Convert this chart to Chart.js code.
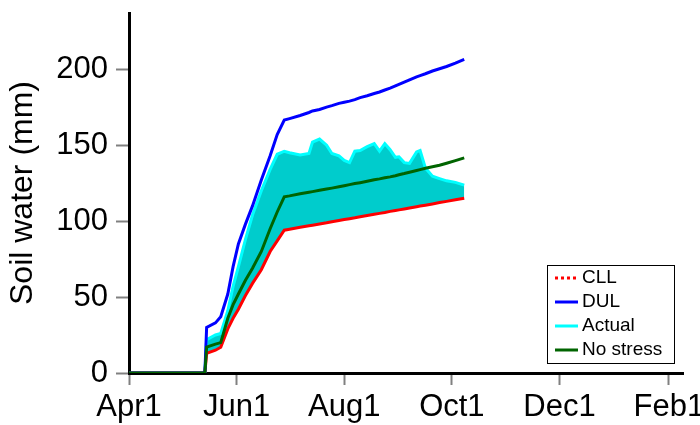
<!DOCTYPE html>
<html>
<head>
<meta charset="utf-8">
<script src="https://cdn.jsdelivr.net/npm/chart.js@4.4.1/dist/chart.umd.min.js"></script>
<style>
  html, body { margin: 0; padding: 0; background: #fff; }
  #wrap { width: 700px; height: 425px; }
</style>
</head>
<body>
<div id="wrap"><canvas id="soilChart"></canvas></div>
<script>
// days after Apr1
const days = [0, 43, 44, 49, 52, 56, 59, 62, 66, 70, 75, 80, 84, 88, 91, 97, 102, 104, 108, 112,
  115, 119, 122, 125, 128, 131, 135, 139, 142, 145, 148, 151, 153, 156, 159, 163, 165, 168, 172, 176,
  180, 185, 190];

const cll = [0, 0, 13, 15, 17, 29, 36, 42, 51, 59, 68, 80, 87, 94, 94.6, 95.9, 96.9, 97.3, 98.1, 98.9,
  99.6, 100.4, 101, 101.6, 102.2, 102.9, 103.7, 104.5, 105.1, 105.7, 106.4, 107, 107.4, 108, 108.6, 109.5, 109.9, 110.5, 111.3, 112.2,
  113, 114, 115];

const dul = [0, 0, 30, 33, 37, 52, 70, 85, 98, 110, 127, 143, 157, 166.5, 167.5, 169.5, 171.5, 172.5, 173.5, 175,
  176, 177.5, 178.3, 179, 180, 181.3, 182.5, 184, 185, 186.3, 187.5, 189, 190, 191.5, 193, 195, 195.8, 197, 198.8, 200.3,
  201.8, 204, 206.5];

const actual = [0, 0, 22, 25, 26, 41, 57, 70, 88, 104, 120, 134, 144, 146, 145, 143.5, 144.5, 152, 154, 150,
  144.5, 143, 140, 138.5, 146, 146.5, 149, 151, 146, 151, 147, 142, 142.3, 138.5, 138, 145.5, 146.5, 135, 129.5, 128,
  126.5, 125.5, 123.7];

const noStress = [0, 0, 17, 19, 20, 36, 45, 52, 61, 69, 80, 95, 106, 116, 116.6, 118, 119, 119.4, 120.3, 121.1,
  121.7, 122.6, 123.3, 124, 124.7, 125.3, 126.2, 127.2, 127.8, 128.5, 129.1, 129.9, 130.5, 131.3, 132.2, 133.3, 133.9, 134.8, 135.8, 136.8,
  138.1, 139.8, 141.6];

const xTickDays = [0, 61, 122, 183, 244, 306];
const xTickLabels = ["Apr1", "Jun1", "Aug1", "Oct1", "Dec1", "Feb1"];
const yTicks = [0, 50, 100, 150, 200];

const pts = (arr) => days.map((d, i) => ({ x: d, y: arr[i] }));

// legend drawn in a framed box, like the original plot
const boxLegend = {
  id: "boxLegend",
  afterDraw(chart) {
    const ctx = chart.ctx;
    const bx = 547, by = 265, bw = 127, bh = 98;
    ctx.save();
    ctx.fillStyle = "#fff";
    ctx.fillRect(bx, by, bw, bh);
    ctx.strokeStyle = "#000";
    ctx.lineWidth = 1;
    ctx.strokeRect(bx + 0.5, by + 0.5, bw, bh);
    ctx.font = "19px 'Liberation Sans', Arial, sans-serif";
    ctx.textBaseline = "middle";
    chart.data.datasets.forEach((ds, i) => {
      const yy = by + 13 + i * 24;
      ctx.beginPath();
      ctx.strokeStyle = ds.borderColor;
      ctx.lineWidth = 3;
      ctx.setLineDash(ds.legendDash || []);
      ctx.moveTo(bx + 8, yy);
      ctx.lineTo(bx + 31, yy);
      ctx.stroke();
      ctx.setLineDash([]);
      ctx.fillStyle = "#000";
      ctx.fillText(ds.label, bx + 35, yy);
    });
    ctx.restore();
  }
};

const tickFont = { family: "'Liberation Sans', Arial, sans-serif", size: 31 };

new Chart(document.getElementById("soilChart"), {
  type: "line",
  data: {
    datasets: [
      { label: "CLL", data: pts(cll), borderColor: "#ff0000", borderWidth: 3, legendDash: [3, 3], order: 3 },
      { label: "DUL", data: pts(dul), borderColor: "#0000ff", borderWidth: 3, order: 2 },
      { label: "Actual", data: pts(actual), borderColor: "#00ffff", backgroundColor: "#00cccc",
        borderWidth: 3, fill: 0, order: 4 },
      { label: "No stress", data: pts(noStress), borderColor: "#006400", borderWidth: 3, order: 1 }
    ]
  },
  options: {
    responsive: true,
    maintainAspectRatio: false,
    animation: false,
    elements: { point: { radius: 0 }, line: { tension: 0 } },
    layout: { padding: { top: 13, right: 17, left: 0, bottom: 0 } },
    plugins: { legend: { display: false }, tooltip: { enabled: false } },
    scales: {
      x: {
        type: "linear",
        min: 0,
        max: 314,
        afterBuildTicks: (scale) => { scale.ticks = xTickDays.map(v => ({ value: v })); },
        afterFit: (scale) => { scale.height = 52; scale.paddingLeft = 0; scale.paddingRight = 0; },
        ticks: {
          color: "#000",
          font: tickFont,
          padding: 4,
          maxRotation: 0,
          autoSkip: false,
          callback: (v) => xTickLabels[xTickDays.indexOf(v)]
        },
        grid: { drawOnChartArea: false, drawTicks: true, tickLength: 12, tickWidth: 2, color: "#808080" },
        border: { color: "#000", width: 3 }
      },
      y: {
        min: 0,
        max: 237,
        afterBuildTicks: (scale) => { scale.ticks = yTicks.map(v => ({ value: v })); },
        afterFit: (scale) => { scale.width = 129; scale.paddingTop = 0; scale.paddingBottom = 0; },
        ticks: { color: "#000", font: tickFont, padding: 8 },
        grid: { drawOnChartArea: false, drawTicks: true, tickLength: 13, tickWidth: 2, color: "#808080" },
        border: { color: "#000", width: 3 },
        title: {
          display: true,
          text: "Soil water (mm)",
          color: "#000",
          font: { family: "'Liberation Sans', Arial, sans-serif", size: 32 },
          padding: { top: 4, bottom: 0 }
        }
      }
    }
  },
  plugins: [boxLegend]
});
</script>
</body>
</html>
